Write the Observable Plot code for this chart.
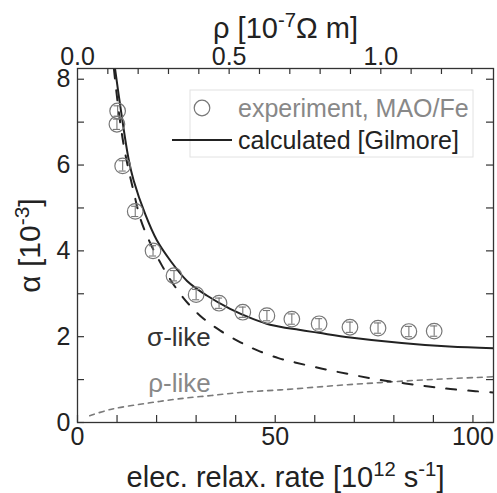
<!DOCTYPE html>
<html>
<head>
<meta charset="utf-8">
<script src="https://cdn.jsdelivr.net/npm/d3@7"></script>
<script src="https://cdn.jsdelivr.net/npm/@observablehq/plot@0.6"></script>
<style>
  html, body { margin: 0; padding: 0; background: #fff; }
  #chart { width: 497px; height: 493px; }
</style>
</head>
<body>
<div id="chart"></div>
<script>
// ---- data ----
const expRate  = [10.15, 9.97, 11.42, 14.6, 19.1, 24.4, 30.0, 35.8, 41.8, 47.9, 54.2, 61.1, 68.9, 76.0, 83.8, 90.2];
const expAlpha = [7.26, 6.95, 5.98, 4.92, 4.00, 3.42, 2.98, 2.78, 2.57, 2.49, 2.41, 2.30, 2.22, 2.20, 2.12, 2.13];
const expErr   = [0.12, 0.12, 0.12, 0.12, 0.12, 0.12, 0.12, 0.12, 0.12, 0.12, 0.12, 0.12, 0.12, 0.12, 0.12, 0.12];

const calcRate  = [9.47, 11.0, 12.9, 14.2, 17.1, 20.1, 23.5, 27.7, 32.7, 38.6, 44.5, 48.7, 56, 61, 69, 82, 94, 105.2];
const calcAlpha = [8.26, 7.26, 6.15, 5.64, 4.86, 4.24, 3.77, 3.30, 2.96, 2.65, 2.41, 2.28, 2.16, 2.09, 1.98, 1.85, 1.77, 1.73];

const sigmaRate  = [9.2, 10.5, 12, 14.4, 15.9, 18.4, 21.4, 23.9, 26.8, 31.0, 36.1, 41.2, 45.5, 50.8, 55, 60.1, 65.2, 70.7, 76.6, 82.9, 88.8, 94.3, 100.6, 105.2];
const sigmaAlpha = [8.25, 7.2, 6.3, 5.3, 4.75, 4.18, 3.65, 3.27, 2.90, 2.49, 2.14, 1.87, 1.68, 1.50, 1.40, 1.29, 1.19, 1.09, 0.99, 0.91, 0.84, 0.78, 0.73, 0.70];

const rhoRate  = [3.1, 8.6, 17.0, 25.5, 33.9, 42.3, 51.3, 59.7, 68.1, 76.6, 85.0, 93.4, 103.5, 105.2];
const rhoAlpha = [0.16, 0.31, 0.44, 0.55, 0.63, 0.71, 0.76, 0.82, 0.88, 0.93, 0.98, 1.02, 1.06, 1.07];

const xTickLabels = [0, 50, 100];
const xTicks = [0, 10, 20, 30, 40, 50, 60, 70, 80, 90, 100];
const yTickLabels = [0, 2, 4, 6, 8];
const yTicks = [0, 1, 2, 3, 4, 5, 6, 7, 8];
const rhoTickLabels = [0.0, 0.5, 1.0];
const rhoTicks = [0.1, 0.2, 0.3, 0.4, 0.5, 0.6, 0.7, 0.8, 0.9, 1.0, 1.1, 1.2, 1.3];
const rhoToRate = 76.7; // 1.0 on the top (ρ) axis sits at this relax. rate

const curveLabels = ["σ-like", "ρ-like"];
const curveLabelRate = [17.6, 17.9];
const curveLabelAlpha = [1.98, 0.90];
const curveLabelColor = ["#333", "#888"];

const legendLabels = ["experiment, MAO/Fe", "calculated [Gilmore]"];

// ---- build ----
const exp = expRate.map((x, i) => ({rate: x, alpha: expAlpha[i], err: expErr[i]}));
const calc = calcRate.map((x, i) => ({rate: x, alpha: calcAlpha[i]}));
const sigma = sigmaRate.map((x, i) => ({rate: x, alpha: sigmaAlpha[i]}));
const rho = rhoRate.map((x, i) => ({rate: x, alpha: rhoAlpha[i]}));
const labels = curveLabels.map((t, i) => ({t, rate: curveLabelRate[i], alpha: curveLabelAlpha[i], c: curveLabelColor[i]}));

const W = 497, H = 493, mL = 77, mR = 4, mT = 68, mB = 71;
const innerW = W - mL - mR, innerH = H - mT - mB;
const FONT = "'Liberation Sans', Arial, Helvetica, sans-serif";

const svg = Plot.plot({
  width: W, height: H,
  marginLeft: mL, marginRight: mR, marginTop: mT, marginBottom: mB,
  style: {background: "#fff", color: "#222", fontFamily: FONT},
  x: {domain: [0, 105.2], axis: null},
  y: {domain: [0, 8.25], axis: null},
  marks: [
    // inward ticks on all four sides
    Plot.tickX(xTicks, {x: d => d, insetTop: innerH - 7, stroke: "#333", strokeWidth: 1.2}),
    Plot.tickX(rhoTicks, {x: d => d * rhoToRate, insetBottom: innerH - 6, stroke: "#333", strokeWidth: 1.2}),
    Plot.tickY(yTicks, {y: d => d, insetRight: innerW - 7, stroke: "#333", strokeWidth: 1.2}),
    Plot.tickY(yTicks, {y: d => d, insetLeft: innerW - 7, stroke: "#333", strokeWidth: 1.2}),
    // tick labels
    Plot.axisX(xTickLabels, {anchor: "bottom", tickSize: 0, tickPadding: 5, fontSize: 25, label: null, tickFormat: d => String(d)}),
    Plot.axisX(rhoTickLabels.map(r => r * rhoToRate), {anchor: "top", tickSize: 0, tickPadding: 4, fontSize: 25, label: null, tickFormat: d => (d / rhoToRate).toFixed(1)}),
    Plot.axisY(yTickLabels, {anchor: "left", tickSize: 0, tickPadding: 7, fontSize: 25, label: null, tickFormat: d => String(d)}),
    // axis titles
    Plot.text(["elec. relax. rate [10^{12} s^{-1}]"], {frameAnchor: "bottom", dy: 55, lineAnchor: "middle", textAnchor: "middle", fontSize: 29, fill: "#222"}),
    Plot.text(["ρ [10^{-7}Ω m]"], {frameAnchor: "top", dy: -40, lineAnchor: "middle", textAnchor: "middle", fontSize: 29, fill: "#222"}),
    Plot.text(["α [10^{-3}]"], {frameAnchor: "left", dx: -47, rotate: -90, lineAnchor: "middle", textAnchor: "middle", fontSize: 30, fill: "#222"}),
    // curves
    Plot.line(rho, {x: "rate", y: "alpha", curve: "catmull-rom", stroke: "#7a7a7a", strokeWidth: 1.6, strokeDasharray: "5,5", clip: true}),
    Plot.line(sigma, {x: "rate", y: "alpha", curve: "catmull-rom", stroke: "#222", strokeWidth: 2, strokeDasharray: "10,12", clip: true}),
    Plot.line(calc, {x: "rate", y: "alpha", curve: "catmull-rom", stroke: "#222", strokeWidth: 2, clip: true}),
    // experiment with error bars
    Plot.ruleX(exp, {x: "rate", y1: d => d.alpha - d.err, y2: d => d.alpha + d.err, stroke: "#777", strokeWidth: 1.1}),
    Plot.ruleY(exp, {y: d => d.alpha - d.err, x1: d => d.rate - 0.9, x2: d => d.rate + 0.9, stroke: "#777", strokeWidth: 1.1}),
    Plot.ruleY(exp, {y: d => d.alpha + d.err, x1: d => d.rate - 0.9, x2: d => d.rate + 0.9, stroke: "#777", strokeWidth: 1.1}),
    Plot.dot(exp, {x: "rate", y: "alpha", r: 7.8, stroke: "#777", strokeWidth: 1.2, fill: "none"}),
    // curve labels
    Plot.text(labels, {x: "rate", y: "alpha", text: "t", fill: "c", textAnchor: "start", lineAnchor: "middle", fontSize: 26}),
    Plot.frame({stroke: "#333", strokeWidth: 1.3})
  ]
});

// superscripts in the axis titles
d3.select(svg).selectAll("text").each(function () {
  const t = this.textContent;
  if (!t.includes("^{")) return;
  const sel = d3.select(this);
  sel.text(null);
  const re = /\^\{([^}]*)\}/g;
  let last = 0, m;
  while ((m = re.exec(t))) {
    if (m.index > last) sel.append("tspan").text(t.slice(last, m.index));
    sel.append("tspan").attr("baseline-shift", "super").attr("font-size", "70%").text(m[1]);
    last = re.lastIndex;
  }
  if (last < t.length) sel.append("tspan").text(t.slice(last));
});

// legend
const lg = d3.select(svg).append("g").attr("font-family", FONT).attr("font-size", 25).attr("text-anchor", "start");
lg.append("rect").attr("x", 190).attr("y", 90).attr("width", 283).attr("height", 67)
  .attr("fill", "#fff").attr("stroke", "#e2e2e2").attr("stroke-width", 1);
lg.append("circle").attr("cx", 202).attr("cy", 108).attr("r", 7.8)
  .attr("fill", "none").attr("stroke", "#777").attr("stroke-width", 1.2);
lg.append("text").attr("x", 238).attr("y", 108).attr("dy", "0.35em").attr("fill", "#888").text(legendLabels[0]);
lg.append("line").attr("x1", 172).attr("x2", 232).attr("y1", 140).attr("y2", 140)
  .attr("stroke", "#222").attr("stroke-width", 2);
lg.append("text").attr("x", 238).attr("y", 140).attr("dy", "0.35em").attr("fill", "#222").text(legendLabels[1]);

document.getElementById("chart").appendChild(svg);
</script>
</body>
</html>
